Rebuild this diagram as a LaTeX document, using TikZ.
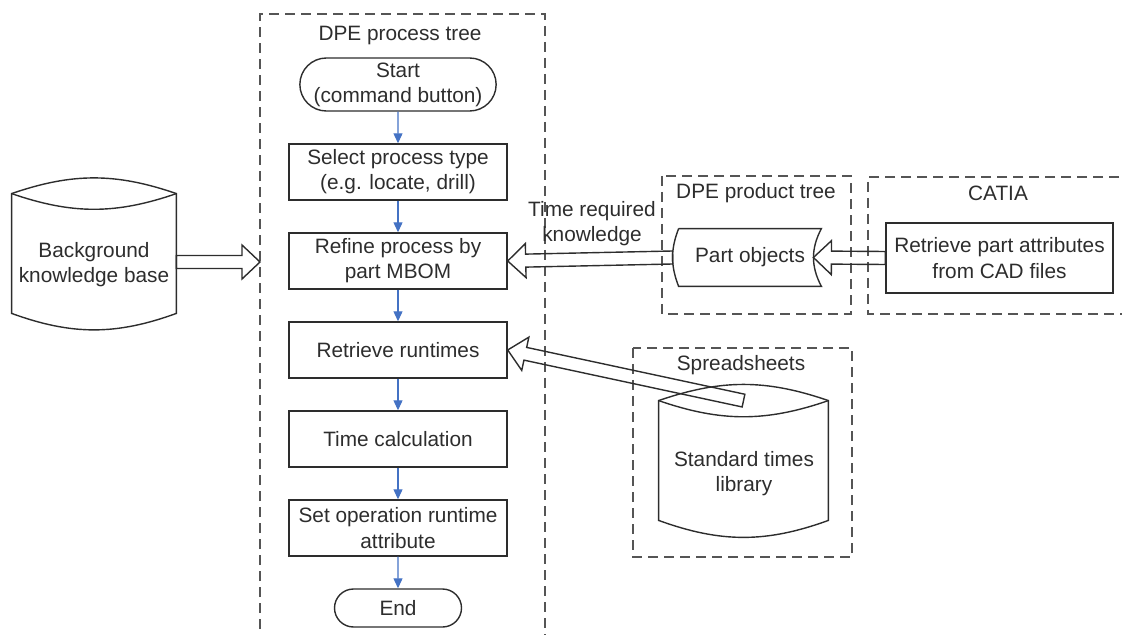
\documentclass[tikz,border=0pt]{standalone}
\usepackage{fontspec}
\setmainfont{Liberation Sans}
\usetikzlibrary{positioning, calc, arrows.meta, shapes.misc}

\definecolor{flowblue}{RGB}{68,114,196}
\definecolor{framegray}{RGB}{85,85,85}
\definecolor{inkgray}{RGB}{45,45,45}

% hollow block arrow from #1 to #2
\newcommand{\hollowarrow}[2]{%
  \coordinate (hb) at ($(#2)!9pt!(#1)$);
  \draw[outline] ($(#1)!3.25pt!90:(#2)$) -- ($(hb)!3.25pt!90:(#2)$) -- ($(hb)!8.5pt!90:(#2)$) -- (#2)
    -- ($(hb)!8.5pt!-90:(#2)$) -- ($(hb)!3.25pt!-90:(#2)$) -- ($(#1)!3.25pt!-90:(#2)$) -- cycle;
}

\begin{document}
\begin{tikzpicture}[x=0.5pt, y=-0.5pt,
    every node/.style={font=\fontsize{10.4}{12.6}\selectfont, text=inkgray, align=center},
    outline/.style={draw=inkgray, line width=0.7pt},
    proc/.style={outline, minimum width=109pt, minimum height=28pt, inner sep=1pt},
    term/.style={outline, rounded rectangle, minimum height=26.5pt, inner sep=1pt},
    frame/.style={draw=framegray, line width=0.7pt, dash pattern=on 5pt off 3pt},
    flow/.style={draw=flowblue, line width=0.6pt, -{Triangle[width=4.5pt, length=5pt]}},
    node distance=15.8pt]
    \useasboundingbox (0,0) rectangle (1122,635);

    % dashed frames
    \draw[frame] (260,645) -- (260,14) -- (545,14) -- (545,645);
    \draw[frame] (662,176) rectangle (851,314);
    \draw[frame] (1135,177) -- (868,177) -- (868,314) -- (1135,314);
    \draw[frame] (633,348) rectangle (852,557);

    \node (ptitle) at (400,36) {DPE process tree};
    \node (prtitle) at (756,193) {DPE product tree};
    \node (catitle) at (998,193) {CATIA};
    \node (sstitle) at (741,365) {Spreadsheets};

    % process tree
    \node[term, minimum width=95pt] (start) at (398,84.5) {Start\\(command button)};
    \node[proc, below=of start] (select) {Select process type\\(e.g. locate, drill)};
    \node[proc, below=of select] (refine) {Refine process by\\part MBOM};
    \node[proc, below=of refine] (runtimes) {Retrieve runtimes};
    \node[proc, below=of runtimes] (timecalc) {Time calculation};
    \node[proc, below=of timecalc] (setop) {Set operation runtime\\attribute};
    \node[term, minimum width=65.5pt, minimum height=19pt, below=of setop] (end) {End};

    \foreach \a/\b in {start/select, select/refine, refine/runtimes, runtimes/timecalc, timecalc/setop, setop/end}
        \draw[flow] (\a) -- (\b);

    % background knowledge base
    \node[minimum width=82pt, minimum height=59.5pt] (bkb) at (94,253.5) {};
    \node (bkbtext) at (94,265) {Background\\knowledge base};
    \draw[outline] (bkb.north west) to[bend left=19] (bkb.north east) -- (bkb.south east)
        to[bend left=20] (bkb.south west) -- cycle;
    \draw[outline] (bkb.north west) to[bend right=19] (bkb.north east);

    % standard times library
    \node[minimum width=84.5pt, minimum height=59.5pt] (stl) at (743.5,460.5) {};
    \node (stltext) at (744,474) {Standard times\\library};
    \draw[outline] (stl.north west) to[bend left=19] (stl.north east) -- (stl.south east)
        to[bend left=20] (stl.south west) -- cycle;
    \draw[outline] (stl.north west) to[bend right=19] (stl.north east);

    % part objects
    \node[minimum width=71pt, minimum height=28.5pt] (parts) at (750,257.5) {Part objects};
    \draw[outline] (parts.north west) -- (parts.north east) to[bend right=28] (parts.south east)
        -- (parts.south west) to[bend left=21] (parts.north west);

    % CATIA
    \node[proc, minimum width=113.5pt, minimum height=35pt] (cad) at (999.5,258) {Retrieve part attributes\\from CAD files};

    % block arrows
    \coordinate (kbtip) at (260,262);
    \coordinate (kbtail) at (bkb.east |- kbtip);
    \hollowarrow{kbtail}{kbtip}
    \coordinate (partstail) at ([xshift=-3pt]parts.west);
    \hollowarrow{partstail}{refine.east}
    \coordinate (partstip) at ([xshift=-4pt]parts.east);
    \hollowarrow{cad.west}{partstip}
    \hollowarrow{stl.north}{runtimes.east}

    \node (timeknow) at (592,224) {Time required\\knowledge};
\end{tikzpicture}
\end{document}
